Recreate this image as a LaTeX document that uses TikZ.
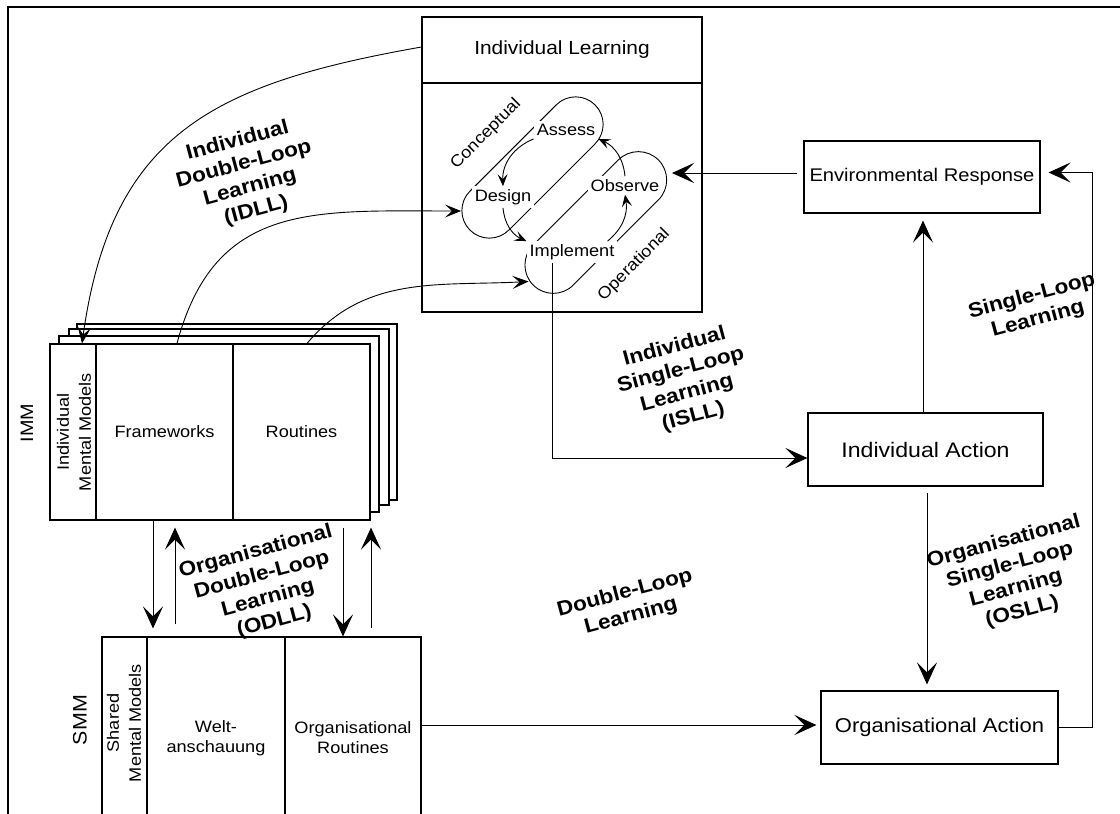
\documentclass[tikz,border=0pt]{standalone}
\usepackage{fontspec}
\setmainfont{Liberation Sans}[FakeStretch=1.1]
\usetikzlibrary{arrows.meta,shapes.misc}
\begin{document}
\begin{tikzpicture}[x=1pt,y=-1pt,
  box/.style={draw, line width=1.1pt, fill=white, inner sep=0pt, align=center},
  conn/.style={line width=0.9pt},
  tipbig/.style={-{Stealth[length=22pt,width=20pt,inset=10pt]}},
  tipmid/.style={-{Stealth[length=16pt,width=13pt,inset=7pt]}},
  tipsmall/.style={-{Stealth[length=12pt,width=10pt,inset=5pt]}},
  lbl/.style={font=\bfseries\fontsize{20.5}{24}\selectfont, align=center, rotate=15},
  loopword/.style={fill=white, inner sep=3pt, font=\fontsize{16.5}{20}\selectfont},
  cellfont/.style={font=\fontsize{16.5}{20}\selectfont},
  sheet/.style={draw, line width=1.1pt, fill=white},
  loopshape/.style={draw, rounded rectangle, line width=0.9pt, inner sep=0pt, rotate=45}
]
\useasboundingbox (0,0) rectangle (1120,814);
\clip (0,0) rectangle (1120,814);

% outer frame (top and left edges)
\draw[line width=2pt] (8,820) -- (8,7) -- (1125,7);

% stack of individual mental model sheets
\foreach \dx/\dy in {27/-20, 19/-15, 9/-8}
  \draw[sheet] ({50+\dx},{344+\dy}) rectangle ({370+\dx},{520+\dy});

% individual mental models (front sheet)
\node[box, minimum width=46pt, minimum height=176pt] (IMMcol) at (73,432) {};
\node[box, cellfont, minimum width=137pt, minimum height=176pt] (FW) at (164.5,432) {Frameworks};
\node[box, cellfont, minimum width=137pt, minimum height=176pt] (RT) at (301.5,432) {Routines};
\node[rotate=90, align=center, font=\fontsize{16.5}{22}\selectfont] (IMMtxt) at (74,432) {Individual\\Mental Models};
\node[rotate=90, font=\fontsize{18}{22}\selectfont] (IMMlbl) at (27,423) {IMM};

% shared mental models
\node[box, minimum width=45pt, minimum height=202pt] (SMMcol) at (124.5,738) {};
\node[box, cellfont, minimum width=138pt, minimum height=202pt] (WA) at (216,738) {Welt-\\anschauung};
\node[box, cellfont, minimum width=136pt, minimum height=202pt] (OR) at (353,738) {Organisational\\Routines};
\node[rotate=90, align=center, font=\fontsize{16.5}{22}\selectfont] (SMMtxt) at (124,723) {Shared\\Mental Models};
\node[rotate=90, font=\fontsize{19.5}{22}\selectfont] (SMMlbl) at (80,720) {SMM};

% individual learning box
\node[box, minimum width=280pt, minimum height=66pt, font=\fontsize{19}{23}\selectfont] (ILtitle) at (562,50) {Individual Learning};
\node[box, minimum width=280pt, minimum height=229pt] (ILbody) at (562,197.5) {};

% action and response boxes
\node[box, minimum width=236pt, minimum height=72pt, font=\fontsize{18.3}{22}\selectfont] (ER) at (922,177) {Environmental Response};
\node[box, minimum width=235pt, minimum height=73pt, font=\fontsize{21}{25}\selectfont] (IA) at (925.5,449.5) {Individual Action};
\node[box, minimum width=237pt, minimum height=73pt, font=\fontsize{20}{24}\selectfont] (OA) at (939.5,727.5) {Organisational Action};

% conceptual and operational loops
\node[loopshape, minimum width=177pt, minimum height=55pt] (CLoop) at (532.5,167.5) {};
\node[loopshape, minimum width=177pt, minimum height=56.6pt] (OLoop) at (595.8,222.5) {};
\node[rotate=45, font=\fontsize{16.5}{20}\selectfont] (Conc) at (486,134) {Conceptual};
\node[rotate=45, font=\fontsize{16.5}{20}\selectfont] (Oper) at (634,265) {Operational};
\node[loopword] (Assess) at (566,130) {Assess};
\node[loopword] (Design) at (503,197) {Design};
\node[loopword] (Implement) at (572,252) {Implement};
\node[loopword] (Observe) at (625,185.5) {Observe};

% cycle inside the loops
\draw[conn, tipsmall] (Assess.south west) to[bend right=35] (Design.north);
\draw[conn, tipsmall] (Design.south) to[bend right=30] (Implement.north west);
\draw[conn, tipsmall] ([xshift=-10pt]Implement.north east) to[bend right=30] (Observe.south);
\draw[conn, tipsmall] (Observe.north) to[bend right=30] (Assess.south east);

% entry points on the loops
\coordinate (desIn) at (461,211);
\coordinate (impIn) at (528.5,281.5);
\coordinate (obsIn) at (672,173);

% individual double-loop learning
\draw[conn, tipmid] ([yshift=3pt]ILtitle.west) to[out=190, in=82, looseness=1.2] ([xshift=9pt]IMMcol.north);
\draw[conn, tipmid] ([xshift=12.5pt]FW.north) to[out=75, in=180, looseness=1.2] (desIn);
\draw[conn, tipmid] ([xshift=5.5pt]RT.north) to[out=50, in=183] (impIn);

% environmental response feeds observation
\draw[conn, tipbig] ([xshift=-6pt,yshift=4pt]ER.west) -- (obsIn);

% individual single-loop learning
\draw[conn, tipbig] ([xshift=-20pt]Implement.south) |- ([yshift=-8.5pt]IA.west);

% single-loop learning
\draw[conn, tipbig, shorten >=7pt] ([xshift=-2.5pt]IA.north) -- ([xshift=1pt]ER.south);
\draw[conn, tipbig] (OA.east) -- ++(34,0) |- ([xshift=8pt,yshift=4.5pt]ER.east);

% organisational single-loop learning
\draw[conn, tipbig, shorten <=6pt, shorten >=6pt] ([xshift=1.5pt]IA.south) -- ([xshift=-12.5pt]OA.north);

% organisational routines drive organisational action
\draw[conn, tipbig] ([yshift=13pt]OR.east) -- ([xshift=-4pt,yshift=2.5pt]OA.west);

% organisational double-loop learning
\draw[conn, tipbig, shorten >=8pt] ([xshift=-11.5pt]FW.south) -- ([xshift=-63pt]WA.north);
\draw[conn, tipbig, shorten <=12pt, shorten >=7pt] ([xshift=-41pt]WA.north) -- ([xshift=10.5pt]FW.south);
\draw[conn, tipbig, shorten <=7pt] ([xshift=41.5pt]RT.south) -- ([xshift=-10pt]OR.north);
\draw[conn, tipbig, shorten <=8pt, shorten >=7pt] ([xshift=18pt]OR.north) -- ([xshift=69.5pt]RT.south);

% learning labels
\node[lbl] (IDLL) at (247,176) {Individual\\Double-Loop\\Learning\\(IDLL)};
\node[lbl] (ODLL) at (265,587) {Organisational\\Double-Loop\\Learning\\(ODLL)};
\node[lbl] (ISLL) at (684,382) {Individual\\Single-Loop\\Learning\\(ISLL)};
\node[lbl] (SLL) at (1035,308) {Single-Loop\\Learning};
\node[lbl] (OSLL) at (1013,577) {Organisational\\Single-Loop\\Learning\\(OSLL)};
\node[lbl] (DLL) at (628,605) {Double-Loop\\Learning};
\end{tikzpicture}
\end{document}
